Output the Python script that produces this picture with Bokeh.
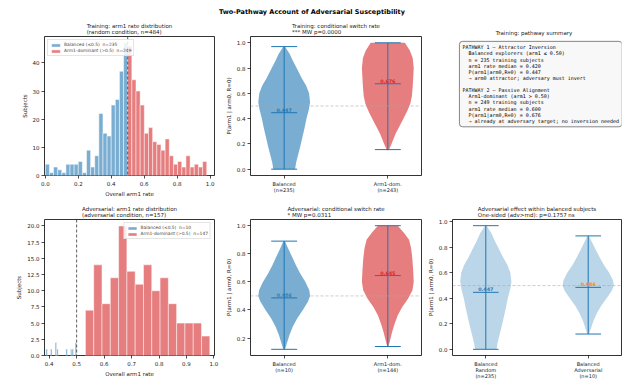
import numpy as np
from bokeh.plotting import figure
from bokeh.models import Span, Label, Range1d, FixedTicker
from bokeh.layouts import column, row
from bokeh.embed import file_html
from bokeh.resources import INLINE

# ---------------- data ----------------
THRESHOLD = 0.5
MAIN_TITLE = "Two-Pathway Account of Adversarial Susceptibility"

# Training histogram (random condition, n=484)
train_bal_range = [0.0, 0.5]
train_bal_counts = [4, 1, 3, 2, 1, 4, 4, 4, 5, 1, 9, 3, 7, 22, 15, 14, 25, 27, 37, 47]
train_arm_range = [0.5, 0.98]
train_arm_counts = [46, 34, 30, 25, 15, 17, 12, 11, 9, 13, 7, 4, 5, 3, 7, 3, 4, 3, 5]
train_xlim = [-0.005, 1.027]

# Adversarial histogram (adversarial condition, n=157)
adv_bal_range = [0.388, 0.5]
adv_bal_counts = [1, 0, 0, 1, 0, 0, 2, 1, 0, 0, 0, 0, 0, 1, 0, 0, 1, 1, 0, 2]
adv_arm_range = [0.532, 0.985]
adv_arm_counts = [7, 14, 8, 12, 20, 13, 11, 14, 10, 12, 8, 5, 5, 5, 3]
adv_xlim = [0.383, 1.002]

# Violin outlines: y levels and relative density (1 = widest)
bal_train_y = [0.00, 0.05, 0.10, 0.18, 0.25, 0.32, 0.40, 0.47, 0.53, 0.60, 0.66, 0.72, 0.80, 0.86, 0.91, 0.97]
bal_train_w = [0.42, 0.46, 0.52, 0.62, 0.70, 0.78, 0.86, 0.95, 1.00, 0.96, 0.85, 0.68, 0.48, 0.33, 0.22, 0.03]
arm_train_y = [0.15, 0.18, 0.22, 0.28, 0.34, 0.40, 0.46, 0.52, 0.58, 0.65, 0.72, 0.80, 0.88, 0.94, 1.00]
arm_train_w = [0.03, 0.10, 0.18, 0.30, 0.45, 0.60, 0.75, 0.87, 0.93, 0.96, 0.98, 1.00, 0.96, 0.85, 0.66]
bal_adv_y = [0.12, 0.16, 0.22, 0.28, 0.34, 0.40, 0.46, 0.50, 0.54, 0.60, 0.66, 0.72, 0.78, 0.84, 0.89]
bal_adv_w = [0.03, 0.10, 0.20, 0.33, 0.50, 0.72, 0.92, 1.00, 0.97, 0.82, 0.62, 0.45, 0.30, 0.15, 0.03]
arm_adv_y = [0.14, 0.18, 0.24, 0.30, 0.36, 0.42, 0.48, 0.54, 0.60, 0.68, 0.76, 0.84, 0.90, 0.95, 1.00]
arm_adv_w = [0.02, 0.08, 0.16, 0.26, 0.38, 0.55, 0.78, 0.95, 1.00, 0.98, 0.95, 0.90, 0.82, 0.62, 0.38]

# violin summary stats: min, max, mean
bal_train_stats = [0.0, 0.97, 0.447]
arm_train_stats = [0.155, 1.0, 0.676]
bal_adv_stats = [0.12, 0.89, 0.486]
arm_adv_stats = [0.14, 1.0, 0.645]

train_labels = ["Balanced\n(n=235)", "Arm1-dom.\n(n=243)"]
adv_labels = ["Balanced\n(n=10)", "Arm1-dom.\n(n=144)"]
cmp_labels = ["Balanced\nRandom\n(n=235)", "Balanced\nAdversarial\n(n=10)"]

NB = "\u00a0\u00a0"
summary_lines = [
    "PATHWAY 1 \u2014 Attractor Inversion",
    NB + "Balanced explorers (arm1 \u2264 0.50)",
    NB + "n = 235 training subjects",
    NB + "arm1 rate median = 0.420",
    NB + "P(arm1|arm0,R=0) = 0.447",
    NB + "\u2192 arm0 attractor; adversary must invert",
    "\u00a0",
    "PATHWAY 2 \u2014 Passive Alignment",
    NB + "Arm1-dominant (arm1 > 0.50)",
    NB + "n = 249 training subjects",
    NB + "arm1 rate median = 0.600",
    NB + "P(arm1|arm0,R=0) = 0.676",
    NB + "\u2192 already at adversary target; no inversion needed",
]

BLUE = "#1f77b4"
RED = "#d62728"
ORANGE = "#ff7f0e"
FONT = "DejaVu Sans"

# ---------------- layout sizes ----------------
W1, W2, W3 = 222, 202, 199
H_TITLE, H_TOP, H_BOT = 19, 180, 182
B1 = (44, 8)     # left/right borders col 1
B2 = (22, 3)
B3 = (22, 2)
TOPB = (17, 21)  # top/bottom borders top row
BOTB = (20, 20)


def make_fig(width, height, lr, tb, title):
    p = figure(width=width, height=height, output_backend="svg", toolbar_location=None,
               min_border_left=lr[0], min_border_right=lr[1],
               min_border_top=tb[0], min_border_bottom=tb[1], title=title)
    p.title.align = "center"
    p.title.text_font = FONT
    p.title.text_font_size = "5.5px"
    p.title.text_font_style = "normal"
    p.title.text_color = "#222222"
    p.title.standoff = 2
    p.title.text_line_height = 1.1
    p.grid.visible = False
    p.outline_line_color = "black"
    p.outline_line_width = 0.8
    p.background_fill_color = "white"
    p.border_fill_color = "white"
    for ax in p.axis:
        ax.axis_line_color = None
        ax.major_tick_line_color = "black"
        ax.major_tick_line_width = 0.7
        ax.major_tick_out = 3
        ax.major_tick_in = 0
        ax.minor_tick_line_color = None
        ax.major_label_text_font = FONT
        ax.major_label_text_font_size = "5.5px"
        ax.major_label_text_color = "#222222"
        ax.major_label_standoff = 2
        ax.axis_label_text_font = FONT
        ax.axis_label_text_font_size = "5.5px"
        ax.axis_label_text_font_style = "normal"
        ax.axis_label_text_color = "#222222"
        ax.axis_label_standoff = 2
    return p


def add_hist(p, rng, counts, color, label):
    c = np.asarray(counts, dtype=float)
    edges = np.linspace(rng[0], rng[1], len(c) + 1)
    m = c > 0
    p.quad(left=edges[:-1][m], right=edges[1:][m], bottom=0, top=c[m],
           fill_color=color, fill_alpha=0.6, line_color="white", line_width=0.5,
           legend_label=label)


def hist_panel(width, height, lr, tb, title, xlim, bal_rng, bal_c, arm_rng, arm_c,
               bal_label, arm_label, legend_loc, ticks_x, ticks_y, y_fmt):
    p = make_fig(width, height, lr, tb, title)
    p.x_range = Range1d(xlim[0], xlim[1])
    p.y_range = Range1d(0, 1.05 * max(max(bal_c), max(arm_c)))
    add_hist(p, bal_rng, bal_c, BLUE, bal_label)
    add_hist(p, arm_rng, arm_c, RED, arm_label)
    p.add_layout(Span(location=THRESHOLD, dimension="height", line_color="#333333",
                      line_dash="3 2", line_width=0.8))
    p.xaxis.axis_label = "Overall arm1 rate"
    p.yaxis.axis_label = "Subjects"
    p.xaxis.ticker = FixedTicker(ticks=ticks_x)
    p.xaxis.major_label_overrides = {t: "%.1f" % t for t in ticks_x}
    p.yaxis.ticker = FixedTicker(ticks=ticks_y)
    p.yaxis.major_label_overrides = {t: (y_fmt % t) for t in ticks_y}
    p.legend.location = legend_loc
    p.legend.label_text_font = FONT
    p.legend.label_text_font_size = "4.4px"
    p.legend.glyph_height = 4
    p.legend.glyph_width = 11
    p.legend.label_height = 4
    p.legend.label_standoff = 3
    p.legend.spacing = 1
    p.legend.padding = 2
    p.legend.margin = 3
    p.legend.border_line_color = "#cccccc"
    p.legend.border_line_width = 0.6
    p.legend.background_fill_alpha = 0.85
    return p


def add_violin(p, pos, ys, ws, stats, color, alpha, txt_color):
    ys = np.asarray(ys)
    hw = np.asarray(ws) * 0.25
    xs = np.concatenate([pos + hw, (pos - hw)[::-1]])
    yy = np.concatenate([ys, ys[::-1]])
    p.patch(xs, yy, fill_color=color, fill_alpha=alpha, line_color=None)
    vmin, vmax, vmean = stats
    p.segment(x0=[pos, pos - 0.125, pos - 0.125, pos - 0.125],
              y0=[vmin, vmin, vmax, vmean],
              x1=[pos, pos + 0.125, pos + 0.125, pos + 0.125],
              y1=[vmax, vmin, vmax, vmean], line_color=BLUE, line_width=1)
    p.text(x=[pos], y=[vmean], text=["%.3f" % vmean], text_color=txt_color,
           text_font_size="4.8px", text_font_style="bold", text_align="center",
           text_baseline="bottom", y_offset=-1, text_font={"value": FONT})


def violin_panel(width, height, lr, tb, title, v1, v2, labels, y_ticks):
    p = make_fig(width, height, lr, tb, title)
    p.x_range = Range1d(0.675, 2.325)
    all_y = v1[0] + v2[0]
    lo, hi = min(all_y), max(all_y)
    pad = 0.05 * (hi - lo)
    p.y_range = Range1d(lo - pad, hi + pad)
    p.add_layout(Span(location=THRESHOLD, dimension="width", line_color="#aaaaaa",
                      line_dash="3 2", line_width=0.6))
    add_violin(p, 1, *v1)
    add_violin(p, 2, *v2)
    p.xaxis.ticker = FixedTicker(ticks=[1, 2])
    p.xaxis.major_label_overrides = {1: labels[0], 2: labels[1]}
    p.xaxis.major_label_text_font_size = "5px"
    p.xaxis.major_label_text_line_height = 1.0
    p.yaxis.ticker = FixedTicker(ticks=y_ticks)
    p.yaxis.major_label_overrides = {t: "%.1f" % t for t in y_ticks}
    p.yaxis.axis_label = "P(arm1 | arm0, R=0)"
    return p


# ---------------- panels ----------------
p0 = figure(width=W1 + W2 + W3, height=H_TITLE, output_backend="svg", toolbar_location=None,
            x_axis_location=None, y_axis_location=None, min_border=0,
            x_range=Range1d(0, 1), y_range=Range1d(0, 1))
p0.outline_line_color = None
p0.grid.visible = False
p0.add_layout(Label(x=0.5, y=0.37, text=MAIN_TITLE, text_font=FONT, text_font_size="6.5px",
                    text_font_style="bold", text_align="center", text_baseline="middle",
                    text_color="black"))

p1 = hist_panel(W1, H_TOP, B1, TOPB,
                "Training: arm1 rate distribution\n(random condition, n=484)", train_xlim,
                train_bal_range, train_bal_counts, train_arm_range, train_arm_counts,
                "Balanced (\u22640.5)  n=235", "Arm1-dominant (>0.5)  n=249", "top_left",
                [0.0, 0.2, 0.4, 0.6, 0.8, 1.0], [0, 10, 20, 30, 40], "%d")

p2 = violin_panel(W2, H_TOP, B2, TOPB,
                  "Training: conditional switch rate\n*** MW p=0.0000",
                  (bal_train_y, bal_train_w, bal_train_stats, BLUE, 0.6, BLUE),
                  (arm_train_y, arm_train_w, arm_train_stats, RED, 0.6, RED),
                  train_labels, [0.0, 0.2, 0.4, 0.6, 0.8, 1.0])

p3 = make_fig(W3, H_TOP, B3, TOPB, "Training: pathway summary")
p3.x_range = Range1d(0, 1)
p3.y_range = Range1d(0, 1)
p3.axis.visible = False
p3.outline_line_color = None
p3.add_layout(Label(x=0.074, y=0.965, text="\n".join(summary_lines),
                    text_font="DejaVu Sans Mono", text_font_size="5px", text_color="black",
                    text_line_height=1.02, text_align="left", text_baseline="top",
                    background_fill_color="#f8f8f8", border_line_color="#555555",
                    border_line_width=0.7, padding=3, border_radius=3))

p4 = hist_panel(W1, H_BOT, B1, BOTB,
                "Adversarial: arm1 rate distribution\n(adversarial condition, n=157)", adv_xlim,
                adv_bal_range, adv_bal_counts, adv_arm_range, adv_arm_counts,
                "Balanced (\u22640.5)  n=10", "Arm1-dominant (>0.5)  n=147", "top_right",
                [0.4, 0.5, 0.6, 0.7, 0.8, 0.9, 1.0],
                [0.0, 2.5, 5.0, 7.5, 10.0, 12.5, 15.0, 17.5, 20.0], "%.1f")

p5 = violin_panel(W2, H_BOT, B2, BOTB,
                  "Adversarial: conditional switch rate\n* MW p=0.0311",
                  (bal_adv_y, bal_adv_w, bal_adv_stats, BLUE, 0.6, BLUE),
                  (arm_adv_y, arm_adv_w, arm_adv_stats, RED, 0.6, RED),
                  adv_labels, [0.2, 0.4, 0.6, 0.8, 1.0])

p6 = violin_panel(W3, H_BOT, B3, BOTB,
                  "Adversarial effect within balanced subjects\nOne-sided (adv>rnd): p=0.1757 ns",
                  (bal_train_y, bal_train_w, bal_train_stats, BLUE, 0.3, BLUE),
                  (bal_adv_y, bal_adv_w, bal_adv_stats, BLUE, 0.3, ORANGE),
                  cmp_labels, [0.0, 0.2, 0.4, 0.6, 0.8, 1.0])

layout = column(p0, row(p1, p2, p3), row(p4, p5, p6))
open("out.html", "w").write(file_html(layout, INLINE))
